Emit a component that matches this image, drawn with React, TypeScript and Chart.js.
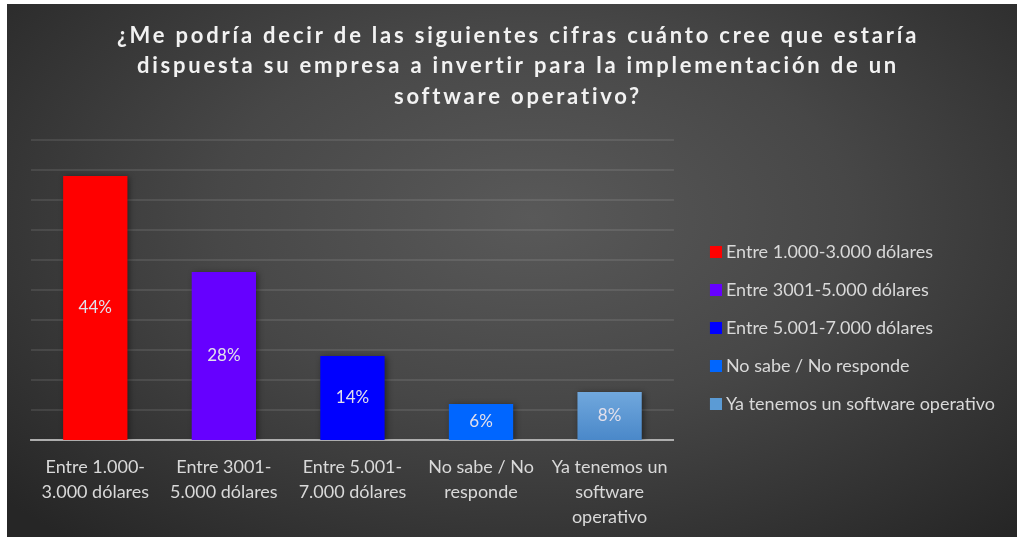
import React, { useEffect, useRef } from "react";
import { Chart, registerables } from "chart.js";

Chart.register(...registerables);

const titleLines = [
  "¿Me podría decir de las siguientes cifras cuánto cree que estaría",
  "dispuesta su empresa a invertir para la implementación de un",
  "software operativo?",
];
const categoryLabels = [
  ["Entre 1.000-", "3.000 dólares"],
  ["Entre 3001-", "5.000 dólares"],
  ["Entre 5.001-", "7.000 dólares"],
  ["No sabe / No", "responde"],
  ["Ya tenemos un", "software", "operativo"],
];
const legendLabels = [
  "Entre 1.000-3.000 dólares",
  "Entre 3001-5.000 dólares",
  "Entre 5.001-7.000 dólares",
  "No sabe / No responde",
  "Ya tenemos un software operativo",
];
const percentValues = [44, 28, 14, 6, 8];
const barColors = ["#FF0000", "#6600FF", "#0000FF", "#0066FF", "#5B9BD5"];

const FONT = "Lato, 'Liberation Sans', sans-serif";
const TEXT_COLOR = "#D9D9D9";
const TITLE_SIZE = 22;
const TITLE_LINE = 31;
const TITLE_PAD_TOP = 17.5;

// legend marker: a square drawn at the right part of a transparent strip
function makeMarker(color: string): HTMLCanvasElement {
  const c = document.createElement("canvas");
  c.width = 33;
  c.height = 12;
  const g = c.getContext("2d");
  if (g) {
    g.fillStyle = color;
    g.fillRect(21, 0, 12, 12);
  }
  return c;
}

const barShadow = {
  id: "barShadow",
  beforeDatasetDraw(chart: any) {
    const ctx = chart.ctx;
    ctx.save();
    ctx.shadowColor = "rgba(0,0,0,0.45)";
    ctx.shadowBlur = 6;
    ctx.shadowOffsetX = 2;
    ctx.shadowOffsetY = 1;
  },
  afterDatasetDraw(chart: any) {
    chart.ctx.restore();
  },
};

// horizontal gridlines taken from the (hidden) y scale's ticks
const yGrid = {
  id: "yGrid",
  beforeDatasetsDraw(chart: any) {
    const { ctx, chartArea } = chart;
    const y = chart.scales.y;
    ctx.save();
    ctx.strokeStyle = "rgba(255,255,255,0.13)";
    ctx.lineWidth = 1.5;
    y.ticks.forEach((t: any) => {
      const py = y.getPixelForValue(t.value);
      ctx.beginPath();
      ctx.moveTo(chartArea.left, py);
      ctx.lineTo(chartArea.right, py);
      ctx.stroke();
    });
    ctx.restore();
  },
};

const valueLabels = {
  id: "valueLabels",
  afterDatasetsDraw(chart: any) {
    const ctx = chart.ctx;
    const meta = chart.getDatasetMeta(0);
    ctx.save();
    ctx.fillStyle = "#E2E0EC";
    ctx.font = `17px ${FONT}`;
    ctx.textAlign = "center";
    ctx.textBaseline = "middle";
    meta.data.forEach((bar: any, i: number) => {
      const v = chart.data.datasets[0].data[i];
      const yMid = (bar.y + bar.base) / 2;
      ctx.fillText(`${v}%`, bar.x, yMid);
    });
    ctx.restore();
  },
};

// Draws the (layout-reserved) title text with letter spacing
const spacedTitle = {
  id: "spacedTitle",
  afterDraw(chart: any) {
    const ctx = chart.ctx;
    const tb = chart.titleBlock;
    const top = tb ? tb.top : 0;
    ctx.save();
    ctx.fillStyle = "#F2F2F2";
    ctx.font = `bold ${TITLE_SIZE}px ${FONT}`;
    try {
      (ctx as any).letterSpacing = "2.8px";
    } catch (e) {}
    ctx.textAlign = "center";
    ctx.textBaseline = "middle";
    const cx = chart.width / 2 + 6;
    titleLines.forEach((line, i) => {
      ctx.fillText(line, cx, top + TITLE_PAD_TOP + TITLE_LINE / 2 - 1.5 + i * (TITLE_LINE - 0.5));
    });
    ctx.restore();
  },
};

export default function App() {
  const canvasRef = useRef<HTMLCanvasElement | null>(null);

  useEffect(() => {
    if (!canvasRef.current) return;
    const markers = barColors.map(makeMarker);
    const chart = new Chart(canvasRef.current, {
      type: "bar",
      data: {
        labels: categoryLabels,
        datasets: [
          {
            data: percentValues,
            backgroundColor: (c: any) => {
              const i = c.dataIndex;
              if (i === 4 && c.chart.chartArea) {
                const { bottom } = c.chart.chartArea;
                const g = c.chart.ctx.createLinearGradient(0, bottom - 50, 0, bottom);
                g.addColorStop(0, "#72A9DE");
                g.addColorStop(1, "#4A88C9");
                return g;
              }
              return barColors[i];
            },
            borderWidth: 0,
            barPercentage: 0.5,
            categoryPercentage: 1.0,
          },
        ],
      },
      options: {
        animation: false,
        responsive: false,
        maintainAspectRatio: false,
        layout: { padding: { left: 24, right: 12, top: 0, bottom: -7 } },
        plugins: {
          tooltip: { enabled: false },
          title: {
            display: true,
            text: titleLines,
            color: "rgba(0,0,0,0)",
            font: { family: FONT, size: TITLE_SIZE, weight: "bold", lineHeight: `${TITLE_LINE}px` },
            padding: { top: TITLE_PAD_TOP, bottom: 25.5 },
          },
          legend: {
            display: true,
            position: "right",
            fullSize: false,
            align: "center",
            title: {
              display: true,
              text: "",
              font: { size: 10, lineHeight: 1 },
              padding: { top: 66, bottom: 0 },
            },
            labels: {
              color: TEXT_COLOR,
              font: { family: FONT, size: 18 },
              usePointStyle: true,
              pointStyleWidth: 23,
              boxHeight: 12,
              padding: 20,
              generateLabels: () =>
                legendLabels.map((t, i) => ({
                  text: t,
                  fillStyle: barColors[i],
                  strokeStyle: barColors[i],
                  lineWidth: 0,
                  pointStyle: markers[i],
                  hidden: false,
                  index: i,
                  fontColor: TEXT_COLOR,
                })),
            },
          },
        },
        scales: {
          x: {
            grid: { display: false, drawTicks: false },
            border: { display: true, color: "#A6A6A6", width: 2 },
            ticks: {
              color: TEXT_COLOR,
              font: { family: FONT, size: 18, lineHeight: "25px" },
              padding: 14.5,
              maxRotation: 0,
              autoSkip: false,
            },
          },
          y: {
            display: false,
            min: 0,
            max: 50,
            ticks: { stepSize: 5 },
          },
        },
      },
      plugins: [yGrid, barShadow, valueLabels, spacedTitle],
    });
    return () => chart.destroy();
  }, []);

  return (
    <div style={{ position: "fixed", left: 0, top: 0, width: 1017, height: 537, background: "#ffffff", overflow: "hidden" }}>
      <div
        style={{
          position: "absolute",
          left: 7,
          top: 4,
          width: 1010,
          height: 533,
          background: "radial-gradient(ellipse 70% 80% at 52% 40%, #595959 0%, #474747 45%, #262626 100%)",
        }}
      >
        <canvas ref={canvasRef} width={1010} height={533} style={{ display: "block" }} />
      </div>
    </div>
  );
}
